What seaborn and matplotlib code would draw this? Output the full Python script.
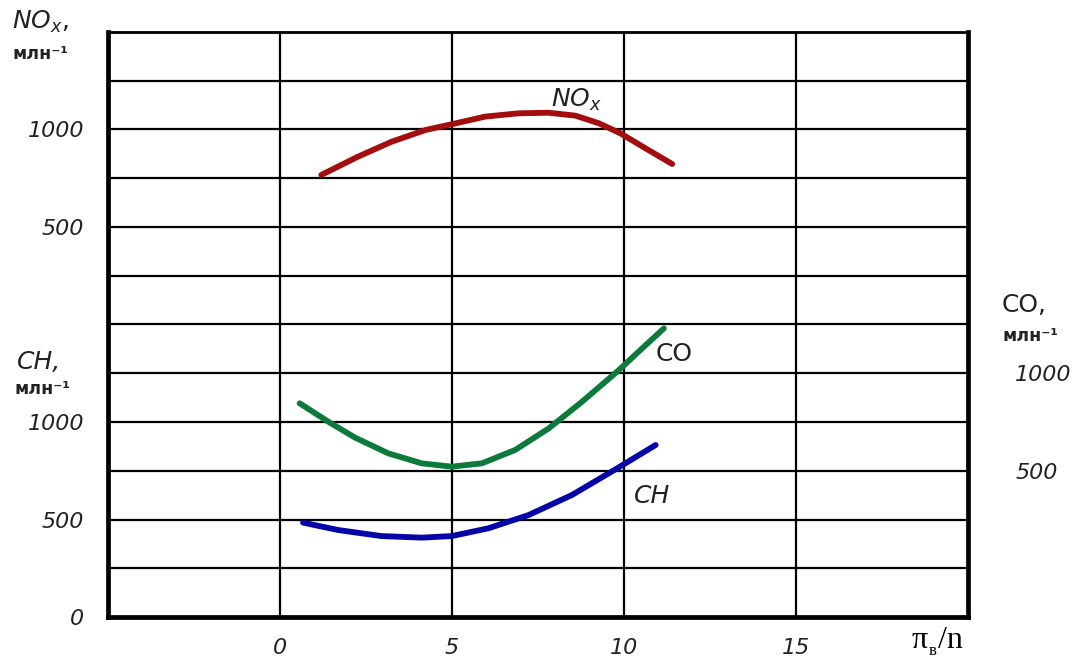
import numpy as np
import pandas as pd
import matplotlib
matplotlib.use("Agg")
import matplotlib.pyplot as plt
import seaborn as sns

# ---- data ----
nox_x = [1.20, 2.27, 3.24, 4.22, 4.99, 5.96, 6.93, 7.81, 8.59, 9.27, 9.90, 10.63, 11.40]
nox_y = [767, 861, 937, 997, 1027, 1066, 1083, 1086, 1071, 1032, 980, 903, 823]

co_x = [0.57, 1.40, 2.18, 3.15, 4.12, 4.99, 5.87, 6.84, 7.81, 8.78, 9.85, 10.53, 11.16]
co_y = [846, 752, 670, 589, 538, 521, 538, 607, 717, 854, 1016, 1128, 1230]

ch_x = [0.67, 1.69, 2.95, 4.12, 4.99, 6.06, 7.23, 8.49, 9.75, 10.92]
ch_y = [484, 446, 415, 407, 415, 455, 523, 626, 757, 882]

x_ticks = [0, 5, 10, 15]
ch_ticks = [0, 500, 1000]
nox_ticks = [500, 1000]
co_ticks = [500, 1000]

sns.set_style("white")
plt.rcParams["font.family"] = ["DejaVu Sans"]
plt.rcParams["mathtext.fontset"] = "dejavusans"

W, H = 1078, 658
TXT = "#222222"
fig = plt.figure(figsize=(W / 100, H / 100), dpi=100)
ax = fig.add_axes([108 / W, 1 - 617 / H, (968 - 108) / W, (617 - 32) / H])

# CH scale on the main axes: 12 grid cells of 250
ax.set_xlim(-5, 20)
ax.set_ylim(0, 3000)
ax.set_xticks(np.arange(-5, 21, 5), minor=True)
ax.set_yticks(np.arange(0, 3001, 250), minor=True)
ax.set_xticks(x_ticks)
ax.set_xticklabels([str(v) for v in x_ticks], fontsize=16, style="italic", color=TXT)
ax.set_yticks(ch_ticks)
ax.set_yticklabels([str(v) for v in ch_ticks], fontsize=16, style="italic", color=TXT)
ax.grid(True, which="both", color="black", lw=1.6)
ax.set_axisbelow(True)
ax.tick_params(axis="x", which="both", length=0, pad=15)
ax.tick_params(axis="y", which="both", length=0, pad=17)
for side in ["left", "bottom", "right"]:
    ax.spines[side].set_linewidth(3.4)
    ax.spines[side].set_color("black")
ax.spines["top"].set_linewidth(2.0)
ax.spines["top"].set_color("black")

sns.lineplot(x=ch_x, y=ch_y, ax=ax, color="#0505a8", lw=4.2, solid_capstyle="round")

# NOx scale: grid 6 -> 0
ax_nox = ax.twinx()
ax_nox.set_ylim(-1500, 1500)
sns.lineplot(x=nox_x, y=nox_y, ax=ax_nox, color="#a30d0d", lw=4.2, solid_capstyle="round")
ax_nox.yaxis.set_ticks_position("left")
ax_nox.set_yticks(nox_ticks)
ax_nox.set_yticklabels([str(v) for v in nox_ticks], fontsize=16, style="italic", color=TXT)
ax_nox.tick_params(axis="y", length=0, pad=17)
for s in ax_nox.spines.values():
    s.set_visible(False)
ax_nox.set_ylabel("")

# CO scale: grid 1 -> 0
ax_co = ax.twinx()
ax_co.set_ylim(-250, 2750)
sns.lineplot(x=co_x, y=co_y, ax=ax_co, color="#0b7a3a", lw=4.2, solid_capstyle="round")
ax_co.yaxis.set_ticks_position("right")
ax_co.set_yticks(co_ticks)
ax_co.set_yticklabels([str(v) for v in co_ticks], fontsize=16, style="italic", color=TXT)
ax_co.tick_params(axis="y", length=0, pad=34)
for s in ax_co.spines.values():
    s.set_visible(False)
ax_co.set_ylabel("")
ax.set_xlim(-5, 20)
ax.set_xlabel("")
ax.set_ylabel("")

def fx(px):
    return px / W

def fy(py):
    return 1 - py / H

# axis titles
fig.text(fx(12), fy(22), r"$NO_{x}$,", fontsize=18, color=TXT, va="center", ha="left")
fig.text(fx(12), fy(54), "млн⁻¹", fontsize=12.5, color=TXT, va="center", ha="left", weight="bold")
fig.text(fx(17), fy(362), "CH,", fontsize=18, color=TXT, va="center", ha="left", style="italic")
fig.text(fx(14), fy(389), "млн⁻¹", fontsize=12.5, color=TXT, va="center", ha="left", weight="bold")
fig.text(fx(1002), fy(305), "CO,", fontsize=18, color=TXT, va="center", ha="left")
fig.text(fx(1002), fy(336), "млн⁻¹", fontsize=12.5, color=TXT, va="center", ha="left", weight="bold")

# curve labels
fig.text(fx(551), fy(100), r"$NO_{x}$", fontsize=18, color=TXT, va="center", ha="left")
fig.text(fx(656), fy(354), "CO", fontsize=18, color=TXT, va="center", ha="left")
fig.text(fx(634), fy(496), "CH", fontsize=18, color=TXT, va="center", ha="left", style="italic")

# x axis label
fig.text(fx(912), fy(641), "π", fontsize=23, family="Liberation Serif", color="black", va="center", ha="left")
fig.text(fx(929), fy(651), "в", fontsize=12, family="Liberation Serif", color="black", va="center", ha="left")
fig.text(fx(938), fy(641), "/n", fontsize=23, family="Liberation Serif", color="black", va="center", ha="left")

fig.savefig("out.png", dpi=100)
